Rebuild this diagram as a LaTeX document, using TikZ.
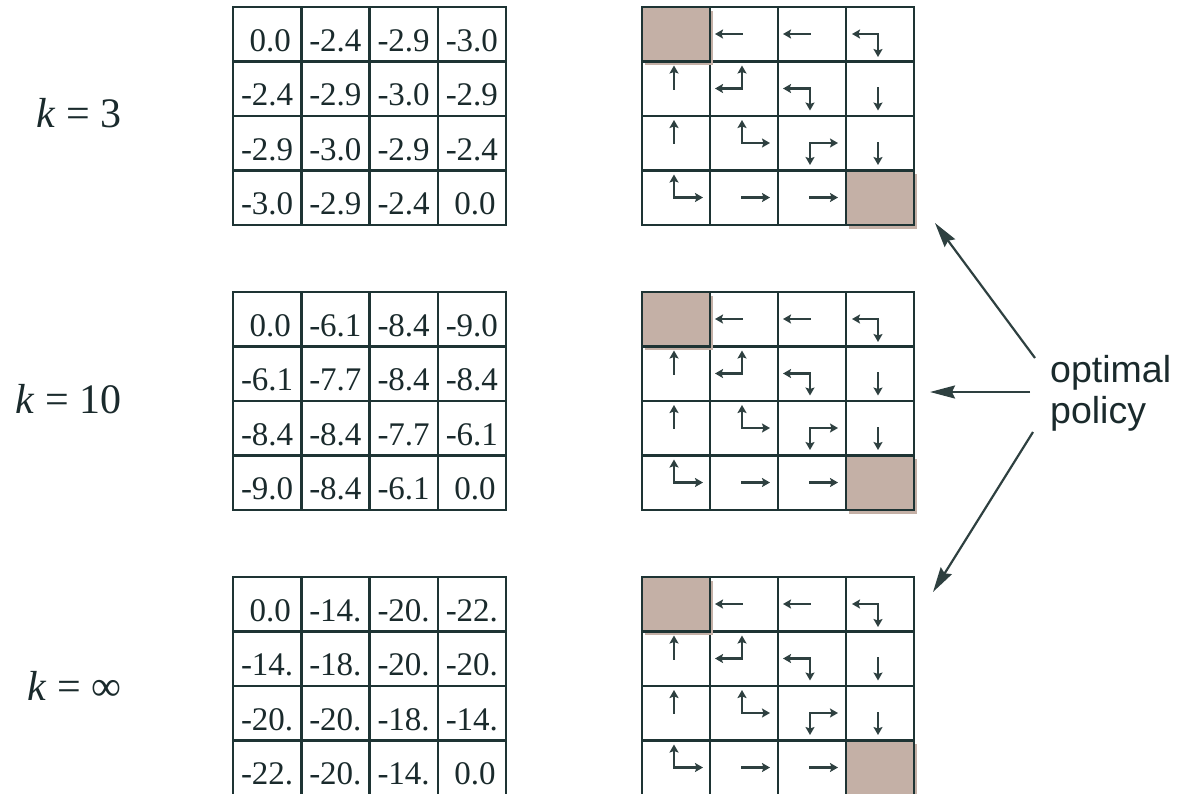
\documentclass[tikz,border=0pt]{standalone}
\usepackage{fontspec}
\setmainfont{Liberation Serif}
\newfontfamily\sansf{Liberation Sans}
\usetikzlibrary{arrows.meta,calc}
\definecolor{gridc}{HTML}{1E3434}
\definecolor{arrc}{HTML}{2E4040}
\definecolor{shadec}{HTML}{C4B0A6}
\definecolor{txtc}{HTML}{1A2A2C}
\tikzset{
  cell/.style={draw=gridc, line width=2.5pt, minimum width=68.25pt, minimum height=54.5pt, inner sep=0pt, outer sep=0pt},
  pcell/.style={cell, minimum width=68pt},
  goal/.style={pcell, fill=shadec},
  num/.style={font=\fontsize{33}{33}\selectfont, text=txtc, anchor=base, inner sep=0pt},
  parrow/.style={draw=arrc, line width=2.3pt, line cap=rect, -{Stealth[length=8pt,width=9pt,inset=1.5pt]}},
  karrow/.style={draw=arrc, line width=2.2pt, -{Stealth[length=25pt,width=13pt,inset=3pt]}},
  klabel/.style={font=\fontsize{42}{42}\selectfont, text=txtc, anchor=base east, inner sep=0pt},
  oplabel/.style={font=\sansf\fontsize{37.5}{41}\selectfont, text=txtc, anchor=north west, align=left, inner sep=0pt},
}
\newcommand\zz{\hspace{6pt}0.0}
\newcommand\putrow[6]{\foreach \c/\t in {0/#3,1/#4,2/#5,3/#6}{\node[num] (n#1-#2-\c) at ($(v#1-#2-\c.north)+(0,44)$) {\t};}}
\newcommand\pol[4]{\foreach \dx/\dy in {#4}{\draw[parrow] ($(p#1-#2-#3.north west)+(32,27)$) -- ++(\dx,\dy);}}
\begin{document}
\begin{tikzpicture}[x=1pt,y=-1pt]
\useasboundingbox (0,0) rectangle (1178,793);
% grids
\foreach \g/\top in {1/7,2/292,3/577}{
  \foreach \r in {0,...,3}{
    \foreach \c in {0,...,3}{
      \node[cell] (v\g-\r-\c) at ({233+68.25*(\c+0.5)},{\top+54.5*(\r+0.5)}) {};
      \node[pcell] (p\g-\r-\c) at ({642+68*(\c+0.5)},{\top+54.5*(\r+0.5)}) {};
    }
  }
}
% terminal (shaded) cells
\foreach \g in {1,2,3}{
  \foreach \rc in {0-0,3-3}{
    \fill[shadec] ($(p\g-\rc.north west)+(2.5,3.5)$) rectangle ($(p\g-\rc.south east)+(2.5,3.5)$);
    \node[goal] (goal\g-\rc) at (p\g-\rc.center) {};
  }
}
% values
\putrow{1}{0}{\zz}{-2.4}{-2.9}{-3.0}
\putrow{1}{1}{-2.4}{-2.9}{-3.0}{-2.9}
\putrow{1}{2}{-2.9}{-3.0}{-2.9}{-2.4}
\putrow{1}{3}{-3.0}{-2.9}{-2.4}{\zz}
\putrow{2}{0}{\zz}{-6.1}{-8.4}{-9.0}
\putrow{2}{1}{-6.1}{-7.7}{-8.4}{-8.4}
\putrow{2}{2}{-8.4}{-8.4}{-7.7}{-6.1}
\putrow{2}{3}{-9.0}{-8.4}{-6.1}{\zz}
\putrow{3}{0}{\zz}{-14.}{-20.}{-22.}
\putrow{3}{1}{-14.}{-18.}{-20.}{-20.}
\putrow{3}{2}{-20.}{-20.}{-18.}{-14.}
\putrow{3}{3}{-22.}{-20.}{-14.}{\zz}
% policies
\foreach \g in {1,2,3}{
  \pol{\g}{0}{1}{-27/0}
  \pol{\g}{0}{2}{-27/0}
  \pol{\g}{0}{3}{-26/0,0/23}
  \pol{\g}{1}{0}{0/-23}
  \pol{\g}{1}{1}{0/-23,-27/0}
  \pol{\g}{1}{2}{-27/0,0/22}
  \pol{\g}{1}{3}{0/22}
  \pol{\g}{2}{0}{0/-23}
  \pol{\g}{2}{1}{0/-23,28/0}
  \pol{\g}{2}{2}{28/0,0/22}
  \pol{\g}{2}{3}{0/22}
  \pol{\g}{3}{0}{0/-23,29/0}
  \pol{\g}{3}{1}{28/0}
  \pol{\g}{3}{2}{28/0}
}
% k labels
\node[klabel] (k1) at (122,127) {{\itshape k}\hspace{11pt}=\hspace{11pt}3};
\node[klabel] (k2) at (122,413) {{\itshape k}\hspace{11pt}=\hspace{11pt}10};
\node[klabel] (k3) at (122,700) {{\itshape k}\hspace{11pt}=\hspace{11pt}∞};
% optimal policy
\node[oplabel] (op) at (1050,355) {optimal\\policy};
\coordinate (s1) at (1035,358); \coordinate (t1) at (935,223);
\coordinate (s2) at (1030,392); \coordinate (t2) at (930,392);
\coordinate (s3) at (1033,432); \coordinate (t3) at (933,592);
\draw[karrow] (s1) -- (t1);
\draw[karrow] (s2) -- (t2);
\draw[karrow] (s3) -- (t3);
\end{tikzpicture}
\end{document}
